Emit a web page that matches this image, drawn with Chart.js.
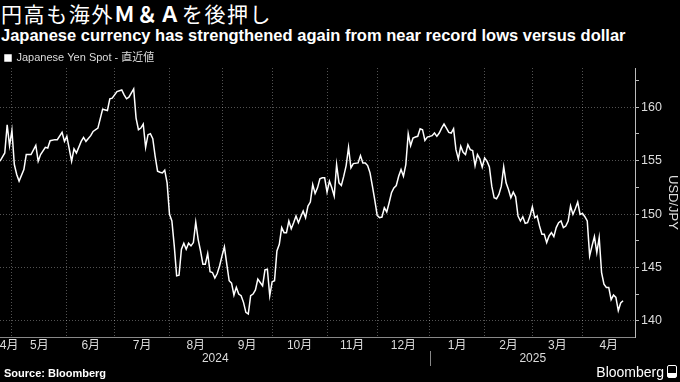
<!DOCTYPE html>
<html>
<head>
<meta charset="utf-8">
<script src="https://cdn.jsdelivr.net/npm/chart.js@4"></script>
<style>
  body { margin: 0; background: #000; }
  #wrap { position: relative; width: 680px; height: 382px; background: #000; overflow: hidden; }
  #chart { position: absolute; left: 0; top: 0; }
  .title { position: absolute; left: 1px; top: 2px; color: #fff; white-space: nowrap;
    font: 21px/22px "Noto Sans CJK JP", sans-serif; letter-spacing: 1.6px; }
  .title b { font-weight: 700; }
  .subtitle { position: absolute; left: 1px; top: 27px; color: #fff; white-space: nowrap;
    font: bold 16.5px/16px "Liberation Sans", Arial, sans-serif; }
  .source { position: absolute; left: 4px; top: 368px; color: #fff;
    font: bold 11px/11px "Liberation Sans", Arial, sans-serif; }
  .brand { position: absolute; right: 3px; top: 365px; color: #fff;
    font: 14px/14px "Liberation Sans", Arial, sans-serif; }
  .brand .icon { display: inline-block; width: 8px; height: 11px; margin-left: 3px; vertical-align: -1px;
    border: 1px solid #fff; border-radius: 2px;
    background: linear-gradient(to top, #fff 0 35%, transparent 35%); }
</style>
</head>
<body>
<div id="wrap">
  <div class="title">円高も海外<b>Ｍ＆Ａ</b>を後押し</div>
  <div class="subtitle">Japanese currency has strengthened again from near record lows versus dollar</div>
  <canvas id="chart" width="680" height="382"></canvas>
  <div class="source">Source: Bloomberg</div>
  <div class="brand">Bloomberg<span class="icon"></span></div>
</div>
<script>
// trading days counted from 2024-04-24 (day 0)
const dayIndex = [
  0, 2, 3, 4, 5, 6, 7, 8, 10, 11, 13, 15, 16, 17, 19, 20, 21, 23, 24, 26, 27, 28, 30, 31, 32, 34, 35, 36, 38, 39,
  41, 43, 45, 46, 47, 49, 51, 52, 53, 54, 56, 57, 58, 59, 60, 61, 62, 63, 64, 65, 66, 67, 68, 69, 70,
  71, 72, 73, 74, 75, 76, 77, 78, 79, 80, 81, 82, 83, 84, 85, 86, 87, 88, 89, 90,
  91, 92, 93, 94, 95, 96, 97, 98, 99, 100, 101, 102, 103, 104, 105, 106, 107, 108, 109, 110,
  111, 112, 113, 114, 115, 116, 117, 118, 119, 120, 121, 122, 123, 124, 125, 126, 127, 128, 129, 130,
  131, 132, 133, 134, 135, 136, 137, 138, 139, 140, 141, 142, 143, 144, 145, 146, 147, 148, 150,
  151, 152, 153, 154, 155, 156, 157, 158, 159, 160, 161, 162, 163, 164, 165, 166, 167, 168, 169, 170,
  171, 172, 173, 174, 175, 176, 177, 178, 179, 181, 182, 183, 184, 185, 186, 187, 188, 189, 190,
  191, 192, 193, 194, 195, 196, 197, 198, 199, 200, 201, 202, 203, 204, 205, 206, 207, 208, 209, 210,
  211, 212, 213, 214, 215, 216, 217, 218, 219, 220, 221, 222, 223, 224, 225, 226, 227, 228, 229, 230,
  231, 232, 233, 234, 235, 236, 237, 238, 239, 240, 241, 242, 243, 244, 245, 246, 247, 248, 249, 250,
  251, 252, 253, 254, 255, 256, 257, 258, 259, 260, 261
];
const usdJpy = [
  154.94, 155.71, 158.35, 156.40, 157.83, 154.63, 153.70, 153.08, 154.16, 155.56, 155.56, 156.43, 154.94, 155.56, 156.24, 156.18, 156.86, 156.96, 156.96, 157.64, 156.80, 157.27, 154.94, 156.09, 155.71, 156.80, 157.17, 156.80, 157.33, 157.73,
  158.04, 159.81, 159.69, 160.78, 160.84, 161.46, 161.61, 161.15, 160.78, 160.93, 161.71, 158.98, 157.89, 158.04, 158.42, 156.24, 157.42, 157.52, 157.05, 155.40, 154.01, 153.91, 153.85, 154.10, 152.92,
  149.97, 149.35, 147.02, 144.22, 144.29, 146.71, 147.27, 146.71, 147.27, 147.02, 147.33, 149.25, 147.64, 146.55, 145.31, 145.31, 146.30, 144.60, 144.53, 144.01,
  144.44, 145.16, 146.09, 146.93, 145.31, 143.76, 143.54, 142.42, 143.14, 142.52, 142.36, 141.74, 140.81, 140.65, 142.36, 142.52, 142.90, 143.91, 143.60, 143.29,
  144.78, 144.84, 142.36, 143.67, 143.76, 146.55, 147.17, 148.73, 148.26, 148.26, 149.35, 148.63, 149.19, 149.81, 149.19, 149.75, 150.28, 149.66, 150.75, 151.12,
  152.76, 151.93, 152.45, 153.29, 153.39, 153.39, 152.05, 153.07, 152.45, 151.68, 154.63, 152.92, 152.67, 153.54, 154.53, 156.24, 154.32, 154.72, 154.78,
  155.47, 154.78, 154.78, 154.53, 153.85, 152.61, 151.30, 149.88, 149.66, 149.72, 150.59, 150.20, 151.06, 151.99, 152.45, 152.67, 153.54, 154.16, 153.54, 154.63,
  157.52, 156.40, 157.11, 157.20, 157.27, 157.98, 157.89, 156.89, 157.20, 157.33, 157.58, 157.27, 157.58, 158.04, 158.42, 158.04, 157.64, 157.58, 157.98,
  156.02, 155.16, 156.34, 155.78, 155.56, 156.49, 156.02, 155.93, 154.53, 155.56, 155.16, 154.38, 155.25, 154.94, 154.41, 152.61, 151.52, 151.43, 151.83, 152.61,
  154.41, 152.92, 152.30, 151.52, 152.05, 151.61, 149.81, 149.35, 149.75, 149.13, 149.19, 149.81, 150.68, 149.66, 149.81, 148.88, 148.11, 148.11, 147.33, 147.95,
  148.26, 147.89, 148.73, 149.19, 149.35, 148.73, 148.88, 149.35, 150.75, 149.97, 150.50, 151.12, 149.97, 150.06, 149.75, 149.35, 146.09, 147.02, 147.89, 146.40,
  147.80, 144.53, 143.45, 143.14, 143.14, 141.99, 142.42, 142.20, 140.96, 141.68, 141.89
];

// first trading day of each month (May 2024 .. Apr 2025)
const monthStarts = [5, 28, 48, 71, 93, 114, 137, 158, 180, 203, 223, 244];
const monthLabels = ['4月', '5月', '6月', '7月', '8月', '9月', '10月', '11月', '12月', '1月', '2月', '3月', '4月'];
const yearLabels = ['2024', '2025'];
const yearStart = 180;
const lastDay = 266;

const textColor = '#dcdcdc';
const gridColor = 'rgba(255,255,255,0.32)';
const fontFamily = '"Liberation Sans", Arial, "Noto Sans CJK JP", sans-serif';

// month names sit in the middle of each month
const bounds = [0, ...monthStarts, lastDay];
const labelPos = monthLabels.map((m, i) => (bounds[i] + bounds[i + 1]) / 2);
labelPos[0] = 3.8; // partial April: keep the label inside the canvas

Chart.defaults.color = textColor;
Chart.defaults.font.family = fontFamily;

// squeeze the legend so the plot starts right under it
const legendHeight = {
  id: 'legendHeight',
  beforeInit(chart) {
    const fit = chart.legend.fit;
    chart.legend.fit = function () {
      fit.call(this);
      this.height = 20.5;
    };
  }
};

// year row under the month labels
const yearRow = {
  id: 'yearRow',
  afterDraw(chart) {
    const { ctx, chartArea, scales: { x } } = chart;
    const split = Math.round(x.getPixelForValue(yearStart)) + 0.5;
    const y = chartArea.bottom + 22;
    ctx.save();
    ctx.fillStyle = textColor;
    ctx.font = '12px ' + fontFamily;
    ctx.textAlign = 'center';
    ctx.textBaseline = 'middle';
    ctx.fillText(yearLabels[0], (chartArea.left + split) / 2, y);
    ctx.fillText(yearLabels[1], (split + chartArea.right) / 2, y);
    ctx.strokeStyle = '#888';
    ctx.lineWidth = 1;
    ctx.beginPath();
    ctx.moveTo(split, chartArea.bottom + 14);
    ctx.lineTo(split, chartArea.bottom + 29);
    ctx.stroke();
    ctx.restore();
  }
};

new Chart(document.getElementById('chart'), {
  type: 'line',
  data: {
    datasets: [{
      label: 'Japanese Yen Spot - 直近値',
      data: dayIndex.map((d, i) => ({ x: d, y: usdJpy[i] })),
      borderColor: '#ffffff',
      backgroundColor: '#ffffff',
      borderWidth: 1.5,
      pointRadius: 0,
      tension: 0,
      fill: false
    }]
  },
  options: {
    responsive: false,
    animation: false,
    devicePixelRatio: 1,
    layout: { autoPadding: false, padding: { top: 47.5, left: 0, right: 0, bottom: 0 } },
    plugins: {
      legend: {
        position: 'top',
        align: 'start',
        labels: { boxWidth: 6, boxHeight: 6, padding: 5, color: textColor, font: { size: 11 } }
      },
      tooltip: { enabled: false }
    },
    scales: {
      x: {
        type: 'linear',
        min: 0,
        max: lastDay,
        afterBuildTicks: axis => {
          axis.ticks = monthStarts.map(v => ({ value: v })).concat(labelPos.map(v => ({ value: v })));
        },
        afterFit: axis => { axis.height = 45; },
        ticks: {
          autoSkip: false,
          maxRotation: 0,
          padding: 1,
          color: textColor,
          font: { size: 12 },
          callback: value => {
            const i = labelPos.indexOf(value);
            return i >= 0 ? monthLabels[i] : '';
          }
        },
        grid: {
          drawTicks: false,
          color: c => (monthStarts.includes(c.tick && c.tick.value) ? gridColor : 'rgba(0,0,0,0)')
        },
        border: { color: '#888', width: 1, dash: [1, 2] }
      },
      y: {
        position: 'right',
        min: 138.5,
        max: 163.66,
        afterFit: axis => { axis.width = 45; },
        ticks: {
          stepSize: 2.5,
          includeBounds: false,
          padding: 2,
          color: textColor,
          font: { size: 12.5 },
          callback: v => (v % 5 === 0 ? String(v) : '')
        },
        grid: {
          color: c => (c.tick && c.tick.value % 5 === 0 ? gridColor : 'rgba(0,0,0,0)'),
          tickColor: '#bbb',
          tickLength: 4
        },
        border: { color: '#bbb', width: 1, dash: [1, 2] },
        title: { display: true, text: 'USD/JPY', color: textColor, font: { size: 13 }, padding: 0 }
      }
    }
  },
  plugins: [legendHeight, yearRow]
});
</script>
</body>
</html>
